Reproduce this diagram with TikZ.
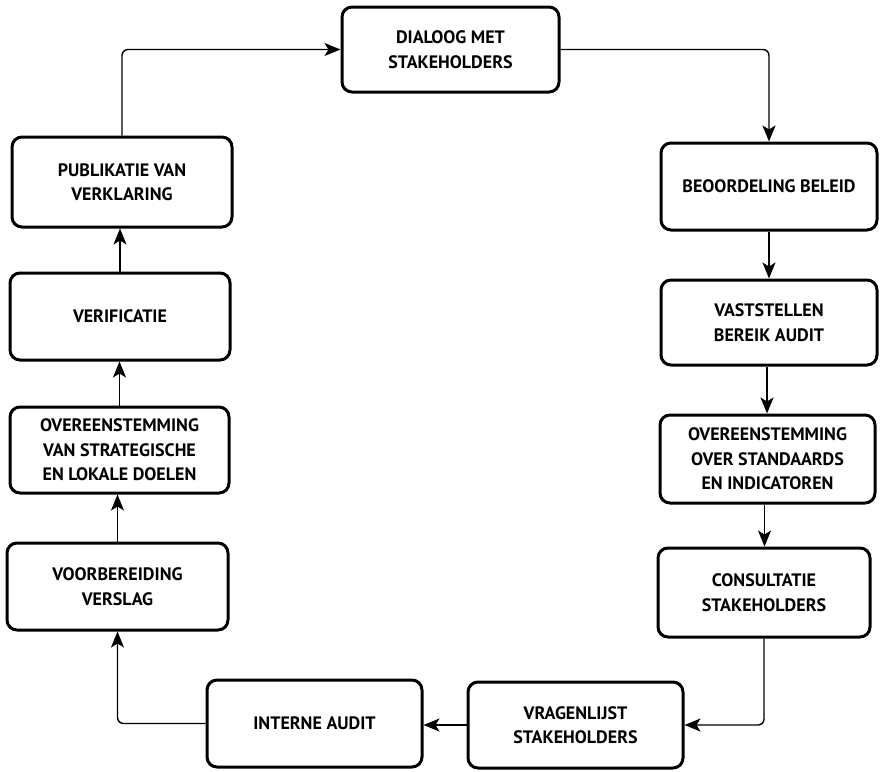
\documentclass[tikz,border=0pt]{standalone}
\usepackage{fontspec}
\setmainfont{PT Sans}
\usetikzlibrary{arrows.meta}
\begin{document}
\begin{tikzpicture}[x=1pt,y=-1pt,
  stepbox/.style={draw=black, line width=3pt, rounded corners=10pt, fill=white,
    align=center, inner sep=0pt, font=\bfseries\fontsize{18}{24.5}\selectfont},
  flow/.style={line width=1.4pt, rounded corners=6pt,
    -{Stealth[length=16pt,width=13pt,inset=4pt]}}]
\useasboundingbox (0,0) rectangle (882,771);
% boxes, clockwise from the top
\node[stepbox, minimum width=217pt, minimum height=85pt] (dialoog) at (450.5,49.5) {DIALOOG MET\\STAKEHOLDERS};
\node[stepbox, minimum width=216pt, minimum height=87pt] (beoord) at (769,186.5) {BEOORDELING BELEID};
\node[stepbox, minimum width=216pt, minimum height=85pt] (vastst) at (769,322.5) {VASTSTELLEN\\BEREIK AUDIT};
\node[stepbox, minimum width=215pt, minimum height=88pt] (overR) at (767.5,459) {OVEREENSTEMMING\\OVER STANDAARDS\\EN INDICATOREN};
\node[stepbox, minimum width=212pt, minimum height=89pt] (consult) at (764,592.5) {CONSULTATIE\\STAKEHOLDERS};
\node[stepbox, minimum width=215pt, minimum height=86pt] (vragen) at (575.5,725) {VRAGENLIJST\\STAKEHOLDERS};
\node[stepbox, minimum width=215pt, minimum height=87pt] (interne) at (314.5,723.5) {INTERNE AUDIT};
\node[stepbox, minimum width=221pt, minimum height=87pt] (voorb) at (117.5,586.5) {VOORBEREIDING\\VERSLAG};
\node[stepbox, minimum width=219pt, minimum height=86pt] (overL) at (119.5,450) {OVEREENSTEMMING\\VAN STRATEGISCHE\\EN LOKALE DOELEN};
\node[stepbox, minimum width=220pt, minimum height=87pt] (verif) at (120,316.5) {VERIFICATIE};
\node[stepbox, minimum width=220pt, minimum height=90pt] (publ) at (122,182) {PUBLIKATIE VAN\\VERKLARING};
% connectors
\draw[flow] (publ.north) |- (dialoog.west);
\draw[flow] (dialoog.east) -| (beoord.north);
\draw[flow] (beoord.south) -- (beoord.south |- vastst.north);
\draw[flow] ([xshift=-2pt]vastst.south) -- ([xshift=-2pt]vastst.south |- overR.north);
\draw[flow] ([xshift=-3pt]overR.south) -- ([xshift=-3pt]overR.south |- consult.north);
\draw[flow] (consult.south) |- (vragen.east);
\draw[flow] (vragen.west) -- (vragen.west -| interne.east);
\draw[flow] (interne.west) -| (voorb.south);
\draw[flow] (voorb.north) -- (voorb.north |- overL.south);
\draw[flow] (overL.north) -- (overL.north |- verif.south);
\draw[flow] (verif.north) -- (verif.north |- publ.south);
\end{tikzpicture}
\end{document}
